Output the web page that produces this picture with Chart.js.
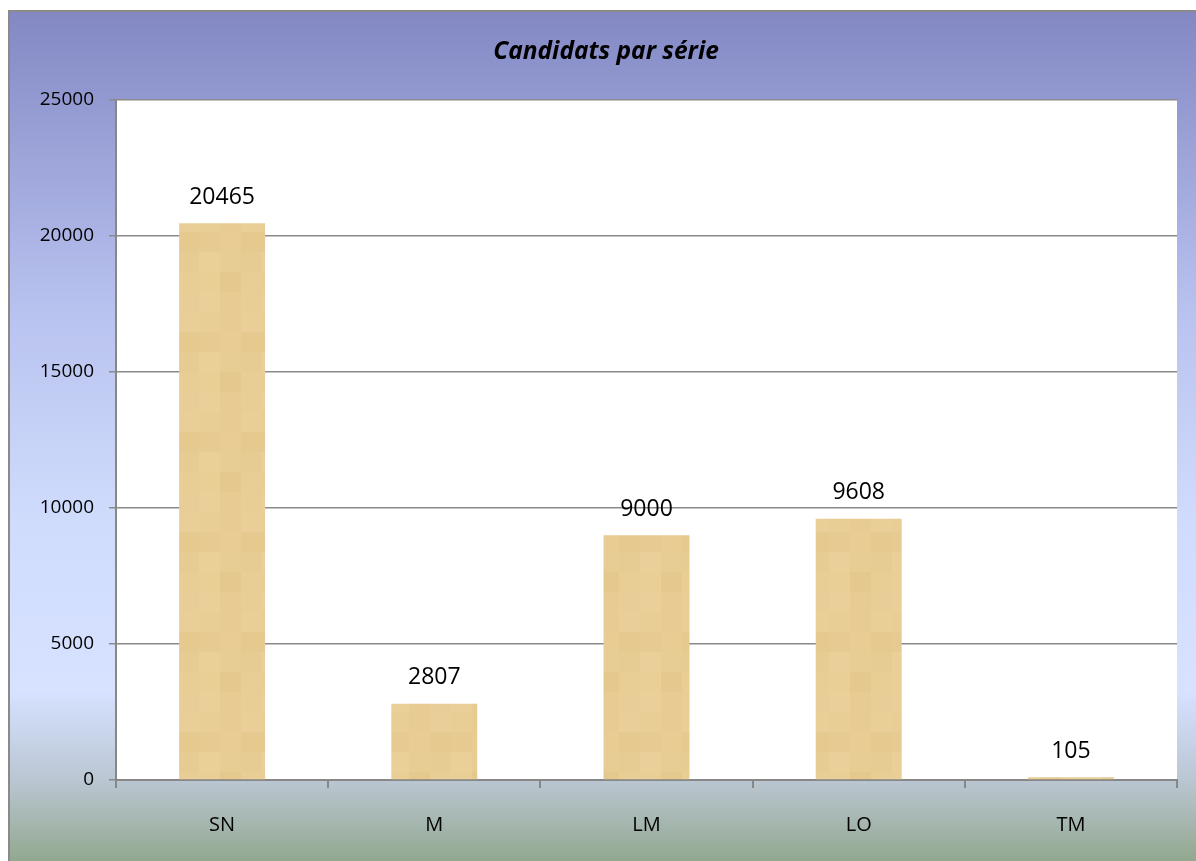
<!DOCTYPE html>
<html>
<head>
<meta charset="utf-8">
<script src="https://cdn.jsdelivr.net/npm/chart.js@4.4.1/dist/chart.umd.min.js"></script>
<style>
  html, body { margin: 0; padding: 0; background: #fff; overflow: hidden; }
  #wrap {
    position: absolute; left: 8px; top: 10px;
    border-left: 2px solid #8a8a8a; border-top: 2px solid #8a8a8a;
  }
  canvas { display: block; }
</style>
</head>
<body>
<div id="wrap"><canvas id="chart" width="1192" height="849"></canvas></div>
<script>
const categories = ['SN', 'M', 'LM', 'LO', 'TM'];
const candidats = [20465, 2807, 9000, 9608, 105];
const yTicks = [0, 5000, 10000, 15000, 20000, 25000];
const titleText = 'Candidats par série';

// soft tan mosaic fill like the original
const shades = [
  '#e8cd95', '#e7cb93', '#e9cf97', '#e6ca91',
  '#e8cc94', '#e5c98f', '#eacf98', '#e7cc93',
  '#e6cb92', '#e9ce96', '#e4c88e', '#e8cd95',
  '#eacf99', '#e7cb92', '#e8cd96'
];
function barPattern() {
  const c = document.createElement('canvas');
  c.width = 63; c.height = 100;
  const g = c.getContext('2d');
  let k = 0;
  for (let r = 0; r < 5; r++) {
    for (let col = 0; col < 3; col++) {
      g.fillStyle = shades[k++ % shades.length];
      g.fillRect(col * 21, r * 20, 21, 20);
    }
  }
  return g.createPattern(c, 'repeat');
}

const bgPlugin = {
  id: 'bg',
  beforeDraw(chart) {
    const { ctx, width, height } = chart;
    const grad = ctx.createLinearGradient(0, 0, 0, height);
    grad.addColorStop(0, '#8388c3');
    grad.addColorStop(0.1, '#9299d0');
    grad.addColorStop(0.35, '#b8c2ef');
    grad.addColorStop(0.6, '#d0dcfc');
    grad.addColorStop(0.8, '#d6e2ff');
    grad.addColorStop(0.905, '#bac6d2');
    grad.addColorStop(1, '#92a88f');
    ctx.save();
    ctx.fillStyle = grad;
    ctx.fillRect(0, 0, width, height);
    const a = chart.chartArea;
    ctx.fillStyle = '#ffffff';
    ctx.fillRect(a.left, a.top, a.right - a.left, a.bottom - a.top);
    ctx.restore();
  }
};

const labelPlugin = {
  id: 'valueLabels',
  afterDatasetsDraw(chart) {
    const { ctx } = chart;
    const meta = chart.getDatasetMeta(0);
    ctx.save();
    ctx.font = '23px "Open Sans"';
    ctx.fillStyle = '#000';
    ctx.textAlign = 'center';
    ctx.textBaseline = 'middle';
    meta.data.forEach((bar, i) => {
      ctx.fillText(String(candidats[i]), bar.x, bar.y - 26);
    });
    ctx.restore();
  }
};

new Chart(document.getElementById('chart'), {
  type: 'bar',
  data: {
    labels: categories,
    datasets: [{
      data: candidats,
      backgroundColor: barPattern(),
      borderWidth: 0,
      categoryPercentage: 1,
      barPercentage: 0.405
    }]
  },
  options: {
    responsive: false,
    animation: false,
    layout: { padding: { left: 25, right: 25, top: 0, bottom: 0 } },
    plugins: {
      legend: { display: false },
      tooltip: { enabled: false },
      title: {
        display: true,
        text: titleText,
        color: '#000',
        font: { family: 'Open Sans', size: 24.5, weight: 'bold', style: 'italic', lineHeight: 1.2 },
        padding: { top: 25, bottom: 33.6 }
      }
    },
    scales: {
      x: {
        grid: {
          display: true,
          drawOnChartArea: false,
          drawTicks: true,
          tickLength: 8,
          offset: true,
          color: '#878787',
          lineWidth: 2
        },
        border: { display: true, color: '#878787', width: 2 },
        ticks: {
          color: '#000',
          font: { family: 'Open Sans', size: 20 },
          padding: 25
        },
        afterFit(scale) { scale.height = 81; }
      },
      y: {
        min: 0,
        max: 25000,
        afterBuildTicks(scale) {
          scale.ticks = yTicks.map(v => ({ value: v }));
        },
        grid: {
          color: '#8a8a8a',
          lineWidth: 1.5,
          tickLength: 7,
          drawTicks: true
        },
        border: { display: true, color: '#878787', width: 2 },
        ticks: {
          color: '#000',
          font: { family: 'Open Sans', size: 19 },
          padding: 15,
          callback: v => String(v)
        },
        afterFit(scale) { scale.width = 81; }
      }
    }
  },
  plugins: [bgPlugin, labelPlugin]
});
</script>
</body>
</html>
